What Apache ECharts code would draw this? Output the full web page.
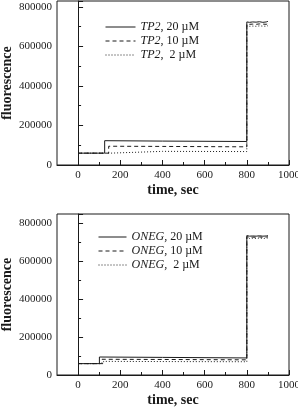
<!DOCTYPE html>
<html>
<head>
<meta charset="utf-8">
<script src="https://cdn.jsdelivr.net/npm/echarts@6/dist/echarts.min.js"></script>
<style>
  html, body { margin: 0; padding: 0; background: #fff; }
  #chart { width: 298px; height: 411px; }
</style>
</head>
<body>
<div id="chart"></div>
<script>
// TP2 panel (top)
const tp2_20 = [[0, 60000], [126, 60000], [126, 123000], [400, 121000], [800, 119000], [800, 724000],
  [806, 727000], [813, 722000], [820, 728000], [828, 724000], [836, 727000], [844, 723000],
  [852, 729000], [860, 725000], [868, 727000], [876, 722000], [884, 726000], [892, 724000], [900, 727000]];
const tp2_10 = [[0, 60000], [145, 60000], [145, 95000], [400, 94000], [800, 92000], [800, 714000],
  [806, 717000], [813, 712000], [820, 716000], [828, 713000], [836, 718000], [844, 712000],
  [852, 716000], [860, 714000], [868, 717000], [876, 713000], [884, 716000], [892, 712000], [900, 715000]];
const tp2_2 = [[0, 60000], [153, 60000], [153, 69000], [400, 69000], [800, 68000], [800, 704000],
  [806, 707000], [813, 702000], [820, 706000], [828, 703000], [836, 708000], [844, 702000],
  [852, 706000], [860, 704000], [868, 707000], [876, 703000], [884, 706000], [892, 702000], [900, 705000]];

// ONEG panel (bottom)
const oneg_20 = [[0, 60000], [101, 60000], [101, 95000], [400, 93000], [800, 90000], [800, 736000],
  [806, 739000], [813, 733000], [820, 738000], [828, 734000], [836, 739000], [844, 733000],
  [852, 737000], [860, 735000], [868, 739000], [876, 733000], [884, 737000], [892, 734000], [900, 736000]];
const oneg_10 = [[0, 60000], [113, 60000], [113, 83000], [400, 82000], [800, 80000], [800, 730000],
  [806, 733000], [813, 727000], [820, 731000], [828, 728000], [836, 733000], [844, 727000],
  [852, 731000], [860, 729000], [868, 732000], [876, 727000], [884, 731000], [892, 728000], [900, 730000]];
const oneg_2 = [[0, 60000], [121, 60000], [121, 72000], [400, 71000], [800, 70000], [800, 724000],
  [806, 727000], [813, 721000], [820, 726000], [828, 722000], [836, 727000], [844, 721000],
  [852, 725000], [860, 723000], [868, 726000], [876, 721000], [884, 725000], [892, 722000], [900, 724000]];

const namesTop = ['TP2, 20 µM', 'TP2, 10 µM', 'TP2,  2 µM'];
const namesBottom = ['ONEG, 20 µM', 'ONEG, 10 µM', 'ONEG,  2 µM'];
const lineTypes = ['solid', [4, 3], [1, 2]];

const xTicks = [0, 200, 400, 600, 800, 1000];
const xMinorTicks = [100, 300, 500, 700, 900];

const font = 'Liberation Serif, Times New Roman, serif';
const ink = '#1a1a1a';

function xAxis(gridIndex) {
  return {
    type: 'value', gridIndex, min: -100, max: 1000,
    name: 'time, sec', nameLocation: 'middle', nameGap: 18, nameMoveOverlap: false,
    nameTextStyle: { fontFamily: font, fontSize: 14, fontWeight: 'bold', color: ink },
    axisLine: { lineStyle: { color: ink } },
    axisTick: { inside: true, length: 5, customValues: xTicks, lineStyle: { color: ink } },
    axisLabel: { fontFamily: font, fontSize: 11, color: ink, margin: 5, customValues: xTicks, formatter: v => String(v) },
    splitLine: { show: false }
  };
}

// second x axis on each grid only for the short in-between ticks
function xMinor(gridIndex) {
  return {
    type: 'value', gridIndex, min: -100, max: 1000, position: 'bottom',
    axisLine: { show: false },
    axisTick: { inside: true, length: 3, customValues: xMinorTicks, lineStyle: { color: ink } },
    axisLabel: { show: false },
    splitLine: { show: false }
  };
}

function yAxis(gridIndex, max) {
  return {
    type: 'value', gridIndex, min: 0, max, interval: 200000,
    name: 'fluorescence', nameLocation: 'middle', nameGap: 43, nameMoveOverlap: false,
    nameTextStyle: { fontFamily: font, fontSize: 14, fontWeight: 'bold', color: ink },
    axisLine: { lineStyle: { color: ink } },
    axisTick: { inside: true, length: 5, lineStyle: { color: ink } },
    minorTick: { show: true, splitNumber: 2, length: 3, lineStyle: { color: ink } },
    axisLabel: { fontFamily: font, fontSize: 11, color: ink, margin: 5, formatter: v => String(v), showMaxLabel: false },
    splitLine: { show: false }
  };
}

function legend(names, left, top, width) {
  return {
    data: names, orient: 'vertical', left, top,
    itemWidth: width, itemHeight: 10, itemGap: 0,
    itemStyle: { opacity: 0, color: 'rgba(0,0,0,0)', borderWidth: 0 },
    lineStyle: { width: 1 },
    formatter: name => {
      const i = name.indexOf(',');
      return '{i|' + name.slice(0, i) + '}' + name.slice(i).replace(/ /g, '\u00a0');
    },
    textStyle: {
      fontFamily: font, fontSize: 12, color: ink, lineHeight: 14,
      rich: { i: { fontFamily: font, fontSize: 12, fontStyle: 'italic', color: ink } }
    }
  };
}

function line(name, data, idx, type) {
  return {
    name, type: 'line', data, xAxisIndex: idx * 2, yAxisIndex: idx,
    symbol: 'none',
    lineStyle: { color: ink, width: 1, type },
    itemStyle: { color: ink }
  };
}

const options = {
  animation: false,
  grid: [
    { left: 57, right: 9, top: 1, height: 164, show: true, borderColor: ink, borderWidth: 1, outerBoundsMode: 'none' },
    { left: 57, right: 9, top: 214, height: 161, show: true, borderColor: ink, borderWidth: 1, outerBoundsMode: 'none' }
  ],
  xAxis: [xAxis(0), xMinor(0), xAxis(1), xMinor(1)],
  yAxis: [yAxis(0, 830000), yAxis(1, 850000)],
  legend: [
    legend(namesTop, 100, 15, 30),
    legend(namesBottom, 93, 225, 28)
  ],
  series: [
    line(namesTop[0], tp2_20, 0, lineTypes[0]),
    line(namesTop[1], tp2_10, 0, lineTypes[1]),
    line(namesTop[2], tp2_2, 0, lineTypes[2]),
    line(namesBottom[0], oneg_20, 1, lineTypes[0]),
    line(namesBottom[1], oneg_10, 1, lineTypes[1]),
    line(namesBottom[2], oneg_2, 1, lineTypes[2])
  ]
};

const chart = echarts.init(document.getElementById('chart'));
chart.setOption(options);
window.addEventListener('resize', () => {
  chart.resize();
});
</script>
</body>
</html>
